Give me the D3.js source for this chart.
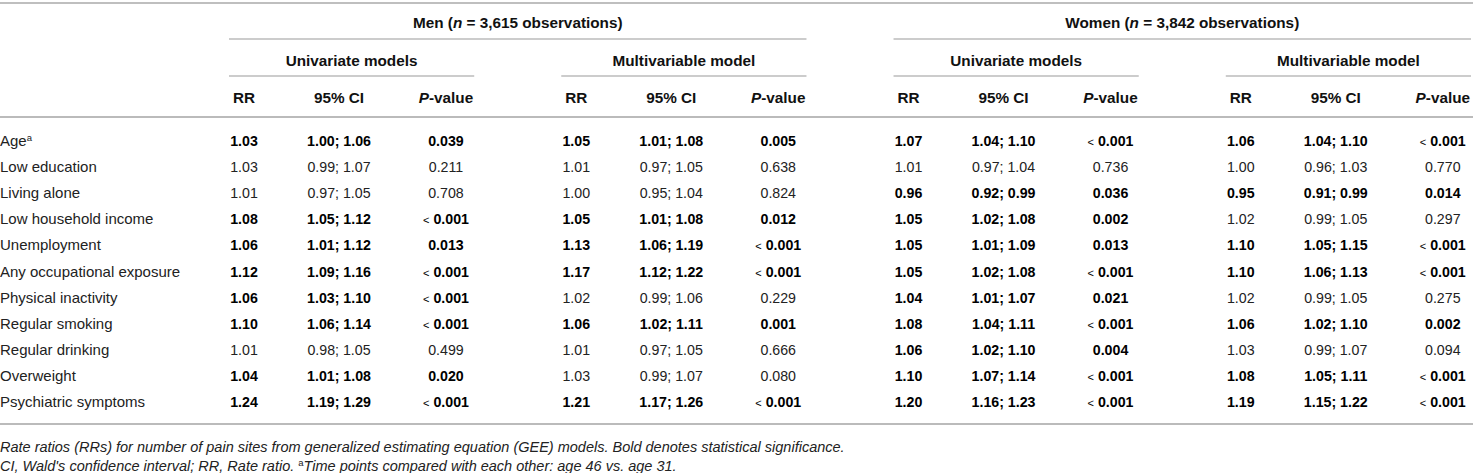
<!DOCTYPE html>
<html>
<head>
<meta charset="utf-8">
<script src="https://cdn.jsdelivr.net/npm/d3@7"></script>
<style>
  body { margin: 0; background: #fff; }
  svg { display: block; font-family: "Liberation Sans", Arial, Helvetica, sans-serif; }
  .cell { font-size: 14.2px; fill: #222; }
  .rowLabel { font-size: 15px; }
  .sig { font-weight: bold; fill: #000; }
  .head { font-size: 15.3px; font-weight: bold; fill: #111; }
  .note { font-size: 14.5px; font-style: italic; fill: #222; }
</style>
</head>
<body>
<div id="table"></div>
<script>
// table data

const variables = [
  "Age", "Low education", "Living alone", "Low household income", "Unemployment",
  "Any occupational exposure", "Physical inactivity", "Regular smoking",
  "Regular drinking", "Overweight", "Psychiatric symptoms"
];

const groups = ["menUni", "menMulti", "womenUni", "womenMulti"];
const groupTitles = ["Univariate models", "Multivariable model", "Univariate models", "Multivariable model"];
const sexTitles = [
  { sex: "Men", n: "3,615", from: "menUni", to: "menMulti" },
  { sex: "Women", n: "3,842", from: "womenUni", to: "womenMulti" }
];
const columns = ["RR", "CI", "P"];

// men, univariate
const menUniRR = ["1.03", "1.03", "1.01", "1.08", "1.06", "1.12", "1.06", "1.10", "1.01", "1.04", "1.24"];
const menUniCI = ["1.00; 1.06", "0.99; 1.07", "0.97; 1.05", "1.05; 1.12", "1.01; 1.12", "1.09; 1.16",
  "1.03; 1.10", "1.06; 1.14", "0.98; 1.05", "1.01; 1.08", "1.19; 1.29"];
const menUniP = ["0.039", "0.211", "0.708", "< 0.001", "0.013", "< 0.001", "< 0.001", "< 0.001", "0.499", "0.020", "< 0.001"];

// men, multivariable
const menMultiRR = ["1.05", "1.01", "1.00", "1.05", "1.13", "1.17", "1.02", "1.06", "1.01", "1.03", "1.21"];
const menMultiCI = ["1.01; 1.08", "0.97; 1.05", "0.95; 1.04", "1.01; 1.08", "1.06; 1.19", "1.12; 1.22",
  "0.99; 1.06", "1.02; 1.11", "0.97; 1.05", "0.99; 1.07", "1.17; 1.26"];
const menMultiP = ["0.005", "0.638", "0.824", "0.012", "< 0.001", "< 0.001", "0.229", "0.001", "0.666", "0.080", "< 0.001"];

// women, univariate
const womenUniRR = ["1.07", "1.01", "0.96", "1.05", "1.05", "1.05", "1.04", "1.08", "1.06", "1.10", "1.20"];
const womenUniCI = ["1.04; 1.10", "0.97; 1.04", "0.92; 0.99", "1.02; 1.08", "1.01; 1.09", "1.02; 1.08",
  "1.01; 1.07", "1.04; 1.11", "1.02; 1.10", "1.07; 1.14", "1.16; 1.23"];
const womenUniP = ["< 0.001", "0.736", "0.036", "0.002", "0.013", "< 0.001", "0.021", "< 0.001", "0.004", "< 0.001", "< 0.001"];

// women, multivariable
const womenMultiRR = ["1.06", "1.00", "0.95", "1.02", "1.10", "1.10", "1.02", "1.06", "1.03", "1.08", "1.19"];
const womenMultiCI = ["1.04; 1.10", "0.96; 1.03", "0.91; 0.99", "0.99; 1.05", "1.05; 1.15", "1.06; 1.13",
  "0.99; 1.05", "1.02; 1.10", "0.99; 1.07", "1.05; 1.11", "1.15; 1.22"];
const womenMultiP = ["< 0.001", "0.770", "0.014", "0.297", "< 0.001", "< 0.001", "0.275", "0.002", "0.094", "< 0.001", "< 0.001"];

const footnote1 = "Rate ratios (RRs) for number of pain sites from generalized estimating equation (GEE) models. Bold denotes statistical significance.";
const footnote2a = "CI, Wald's confidence interval; RR, Rate ratio. ";
const footnote2b = "Time points compared with each other: age 46 vs. age 31.";

const w = 1473;
const h = 473;

const source = {
  menUni: [menUniRR, menUniCI, menUniP],
  menMulti: [menMultiRR, menMultiCI, menMultiP],
  womenUni: [womenUniRR, womenUniCI, womenUniP],
  womenMulti: [womenMultiRR, womenMultiCI, womenMultiP]
};

const significant = p => p.startsWith("<") || parseFloat(p) < 0.05;

// flatten into cells
const cells = [];
groups.forEach(g => {
  variables.forEach((v, i) => {
    const p = source[g][2][i];
    columns.forEach((c, j) => {
      cells.push({ group: g, variable: v, col: c, text: source[g][j][i], bold: significant(p) });
    });
  });
});

const svg = d3.select("#table")
  .append("svg")
  .attr("width", w)
  .attr("height", h);

const xGroup = d3.scaleBand()
  .domain(groups)
  .range([229, 1471])
  .paddingInner(0.262);

const xCol = d3.scaleOrdinal()
  .domain(columns)
  .range([15, 110, 217]);

const yRow = d3.scaleBand()
  .domain(variables)
  .range([128, 128 + variables.length * 26.1]);

const rowBase = v => yRow(v) + 18;

function hline(y, x1, x2, width, color) {
  svg.append("line")
    .attr("x1", x1).attr("x2", x2)
    .attr("y1", y).attr("y2", y)
    .attr("stroke", color)
    .attr("stroke-width", width);
}

// rules
hline(3, 0, w, 1.5, "#aaa");
sexTitles.forEach(s => {
  hline(39, xGroup(s.from), xGroup(s.to) + xGroup.bandwidth(), 1.3, "#bbb");
});
groups.forEach(g => {
  hline(76, xGroup(g), xGroup(g) + xGroup.bandwidth(), 1.3, "#bbb");
});
hline(117, 0, w, 2, "#bbb");
hline(424, 0, w, 2, "#bbb");

// sex headers
const sexText = svg.selectAll(".sexHead")
  .data(sexTitles)
  .enter()
  .append("text")
  .attr("class", "head sexHead")
  .attr("text-anchor", "middle")
  .attr("x", d => (xGroup(d.from) + xGroup(d.to) + xGroup.bandwidth()) / 2)
  .attr("y", 28);
sexText.append("tspan").text(d => d.sex + " (");
sexText.append("tspan").attr("font-style", "italic").text("n");
sexText.append("tspan").text(d => "\u00a0=\u00a0" + d.n + " observations)");

// model headers
svg.selectAll(".modelHead")
  .data(groups)
  .enter()
  .append("text")
  .attr("class", "head modelHead")
  .attr("text-anchor", "middle")
  .attr("x", g => xGroup(g) + xGroup.bandwidth() / 2)
  .attr("y", 66)
  .text((g, i) => groupTitles[i]);

// column headers
const colHeads = [];
groups.forEach(g => columns.forEach(c => colHeads.push({ group: g, col: c })));
const ch = svg.selectAll(".colHead")
  .data(colHeads)
  .enter()
  .append("text")
  .attr("class", "head colHead")
  .attr("text-anchor", "middle")
  .attr("x", d => xGroup(d.group) + xCol(d.col))
  .attr("y", 103);
ch.filter(d => d.col === "RR").text("RR");
ch.filter(d => d.col === "CI").text("95% CI");
ch.filter(d => d.col === "P").each(function() {
  const t = d3.select(this);
  t.append("tspan").attr("font-style", "italic").text("P");
  t.append("tspan").text("-value");
});

// row labels
const labels = svg.selectAll(".rowLabel")
  .data(variables)
  .enter()
  .append("text")
  .attr("class", "cell rowLabel")
  .attr("x", 0)
  .attr("y", rowBase);
labels.append("tspan").text(d => d);
labels.filter(d => d === "Age")
  .append("tspan")
  .attr("font-size", "9.5px")
  .attr("dy", -5)
  .text("a");

// values
const vals = svg.selectAll(".val")
  .data(cells)
  .enter()
  .append("text")
  .attr("class", d => "cell val" + (d.bold ? " sig" : ""))
  .attr("text-anchor", "middle")
  .attr("x", d => xGroup(d.group) + xCol(d.col))
  .attr("y", d => rowBase(d.variable));
vals.each(function(d) {
  const t = d3.select(this);
  if (d.text.startsWith("<")) {
    t.append("tspan").attr("font-size", "11px").attr("font-weight", "normal").text("<");
    t.append("tspan").text("\u00a0" + d.text.slice(2));
  } else {
    t.text(d.text);
  }
});

// footnotes
svg.append("text")
  .attr("class", "note")
  .attr("x", 0)
  .attr("y", 452)
  .text(footnote1);

const fn2 = svg.append("text")
  .attr("class", "note")
  .attr("x", 0)
  .attr("y", 471);
fn2.append("tspan").text(footnote2a);
fn2.append("tspan").attr("font-style", "normal").attr("font-size", "9.5px").attr("dy", -5).text("a");
fn2.append("tspan").attr("dy", 5).text(footnote2b);
</script>
</body>
</html>
